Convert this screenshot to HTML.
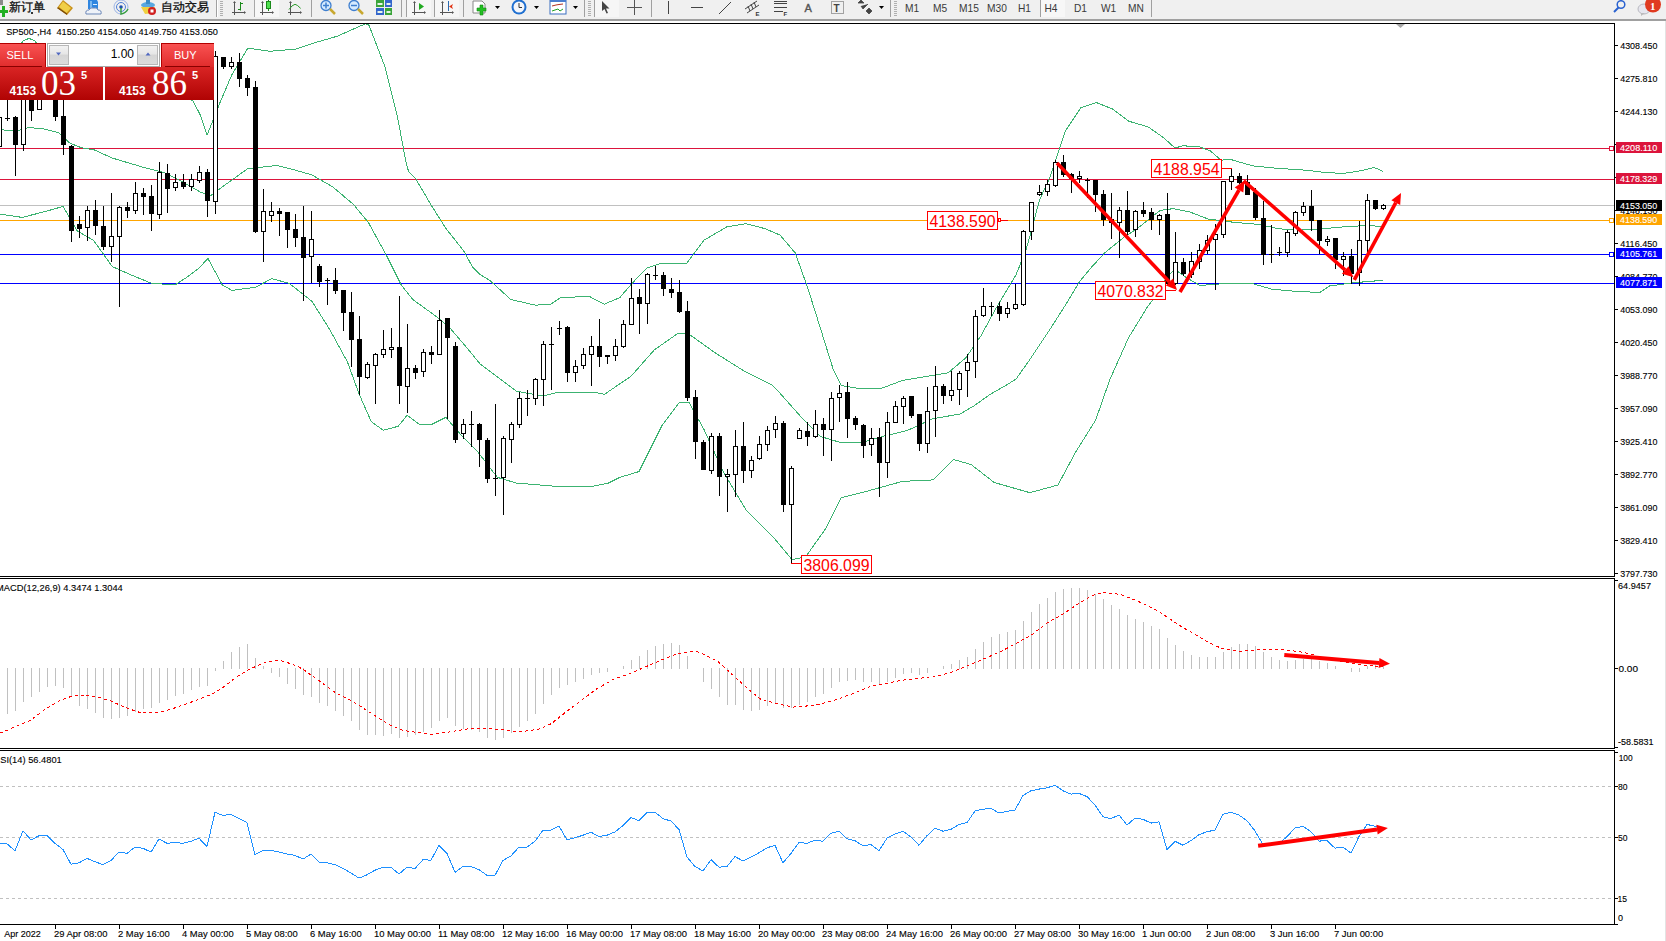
<!DOCTYPE html>
<html><head><meta charset="utf-8"><style>
html,body{margin:0;padding:0;width:1666px;height:941px;overflow:hidden;background:#fff}
#wrap{position:relative;width:1666px;height:941px;font-family:'Liberation Sans', sans-serif}
</style></head><body><div id="wrap">
<svg width="1666" height="941" viewBox="0 0 1666 941" style="display:block;font-family:'Liberation Sans', sans-serif">
<rect x="0" y="0" width="1666" height="941" fill="#ffffff"/>
<rect x="0" y="0" width="1666" height="19" fill="#f0f0f0"/>
<rect x="0" y="19" width="1666" height="2" fill="#a0a0a0"/>
<rect x="1665" y="21" width="1" height="920" fill="#e3e3e3"/>
<rect x="0" y="148" width="1614" height="1" fill="#dc143c"/>
<rect x="0" y="179" width="1614" height="1" fill="#dc143c"/>
<rect x="0" y="205" width="1614" height="1" fill="#c0c0c0"/>
<rect x="0" y="220" width="1614" height="1" fill="#ffa500"/>
<rect x="0" y="254" width="1614" height="1" fill="#0000ff"/>
<rect x="0" y="283" width="1614" height="1" fill="#0000ff"/>
<rect x="1609.5" y="146.5" width="4" height="4" fill="#fff" stroke="#dc143c" stroke-width="1"/>
<rect x="1609.5" y="218.5" width="4" height="4" fill="#fff" stroke="#ffa500" stroke-width="1"/>
<rect x="1609.5" y="252.5" width="4" height="4" fill="#fff" stroke="#0000ff" stroke-width="1"/>
<g clip-path="url(#cpMain)">
<polyline points="0.0,75.0 17.0,50.0 23.0,41.0 29.0,38.3 35.0,41.0 41.0,50.0 60.0,62.0 120.0,70.0 193.0,101.0 200.0,114.4 207.0,135.2 212.8,120.8 219.0,104.9 231.9,74.6 247.8,48.1 270.0,51.3 295.6,49.1 314.8,42.7 337.0,36.3 365.8,23.6 369.0,25.2 384.9,66.6 397.6,117.6 405.6,160.0 408.6,171.9 416.0,179.3 430.9,204.6 445.8,228.4 463.6,250.7 472.6,267.1 480.0,274.5 489.7,280.3 510.8,299.5 535.6,305.2 550.9,304.1 560.5,297.6 589.2,296.4 604.5,304.1 619.8,297.6 631.3,284.2 646.6,268.1 661.9,263.1 686.7,263.1 704.0,240.2 726.9,226.8 746.0,223.7 765.2,228.7 780.0,235.1 795.3,253.0 808.0,288.7 820.8,329.5 833.5,370.3 841.2,385.6 856.5,388.1 882.0,388.1 902.4,380.5 933.0,375.4 948.3,372.8 966.1,357.5 981.0,335.7 995.0,310.0 1016.0,274.9 1025.5,251.5 1030.2,235.0 1039.5,200.0 1050.3,176.5 1065.6,130.6 1080.9,107.6 1096.2,102.5 1112.8,109.1 1128.7,121.2 1147.8,126.7 1163.8,137.8 1174.9,148.0 1182.9,145.8 1198.8,146.7 1210.0,150.6 1221.1,160.1 1230.7,159.5 1253.0,165.9 1275.3,168.1 1307.2,170.3 1323.1,172.2 1342.3,173.5 1358.2,171.3 1374.1,167.5 1383.0,171.3" fill="none" stroke="#3cb371" stroke-width="1" shape-rendering="crispEdges"/>
<polyline points="0.0,129.9 18.7,130.4 28.0,127.6 42.1,128.5 58.5,132.7 70.1,143.3 81.8,147.9 93.5,149.6 112.2,158.0 130.9,163.6 145.0,167.8 163.7,172.5 182.4,181.8 201.0,192.4 210.4,195.9 225.5,184.6 247.8,168.6 276.5,165.5 292.4,169.3 311.9,174.9 332.7,186.8 353.6,204.6 368.4,222.5 386.3,255.2 401.2,285.0 413.1,299.8 433.9,314.7 448.8,326.6 466.6,347.4 480.0,363.8 493.6,374.1 516.5,391.3 543.3,395.9 558.6,392.0 593.0,392.0 604.5,394.3 631.3,376.0 654.2,350.0 677.2,333.9 688.7,333.9 715.4,353.0 746.0,372.2 772.8,385.5 780.0,393.2 800.4,416.2 820.8,436.6 841.2,442.7 861.6,442.7 882.0,436.6 907.5,430.4 933.0,418.7 960.0,414.0 974.0,405.9 990.4,394.2 1006.8,384.8 1016.1,379.0 1030.2,359.0 1048.9,331.0 1065.3,305.3 1079.3,281.9 1091.0,267.8 1105.0,252.6 1123.7,237.4 1137.8,228.1 1160.0,210.5 1173.3,208.6 1189.3,211.8 1208.4,219.1 1233.9,222.3 1259.4,224.5 1278.5,228.7 1297.6,230.3 1323.1,228.7 1348.6,226.4 1371.0,225.5 1383.0,227.1" fill="none" stroke="#3cb371" stroke-width="1" shape-rendering="crispEdges"/>
<polyline points="0.0,214.1 22.2,217.4 46.8,211.1 63.1,206.4 77.2,230.9 93.5,240.3 112.2,266.5 130.9,274.9 152.0,283.5 175.4,284.7 187.0,277.2 198.7,268.3 208.0,258.5 222.3,285.0 231.9,290.4 255.8,287.2 271.7,278.6 289.3,283.4 311.9,301.3 329.8,329.6 347.6,362.3 359.5,395.0 371.4,421.8 383.3,430.2 398.2,426.3 407.1,415.3 419.0,424.2 430.9,424.8 445.8,417.4 463.0,437.2 478.3,452.5 497.4,477.4 516.5,483.1 554.8,486.2 593.0,486.2 608.3,483.1 619.8,477.4 638.9,471.6 661.9,425.7 679.1,402.8 688.7,402.0 704.0,429.5 723.1,471.6 746.0,509.9 772.8,536.6 792.0,559.5 805.5,557.0 825.9,528.4 841.2,497.8 861.6,492.7 902.4,481.4 933.0,479.9 953.4,459.5 971.2,464.6 994.2,482.5 1029.9,492.7 1057.9,485.0 1075.8,451.9 1095.7,420.0 1109.7,380.0 1128.4,338.0 1147.0,307.6 1153.0,299.4 1160.0,286.0 1168.0,276.0 1175.0,269.5 1187.0,278.0 1200.0,285.5 1221.1,283.8 1253.0,283.8 1272.1,289.2 1297.6,291.5 1320.0,292.4 1329.5,286.0 1351.8,282.9 1383.0,280.3" fill="none" stroke="#3cb371" stroke-width="1" shape-rendering="crispEdges"/>
</g>
<g shape-rendering="crispEdges">
<rect x="-1" y="115" width="1" height="35" fill="#000"/>
<rect x="-3" y="117" width="5" height="30" fill="#000"/>
<rect x="-2" y="118" width="3" height="28" fill="#fff"/>
<rect x="7" y="95" width="1" height="26" fill="#000"/>
<rect x="5" y="118" width="5" height="1" fill="#000"/>
<rect x="15" y="116" width="1" height="60" fill="#000"/>
<rect x="13" y="117" width="5" height="28" fill="#000"/>
<rect x="23" y="95" width="1" height="56" fill="#000"/>
<rect x="21" y="95" width="5" height="50" fill="#000"/>
<rect x="22" y="96" width="3" height="48" fill="#fff"/>
<rect x="31" y="95" width="1" height="26" fill="#000"/>
<rect x="29" y="95" width="5" height="16" fill="#000"/>
<rect x="39" y="95" width="1" height="15" fill="#000"/>
<rect x="37" y="95" width="5" height="15" fill="#000"/>
<rect x="38" y="96" width="3" height="13" fill="#fff"/>
<rect x="47" y="95" width="1" height="3" fill="#000"/>
<rect x="45" y="95" width="5" height="3" fill="#000"/>
<rect x="55" y="95" width="1" height="26" fill="#000"/>
<rect x="53" y="95" width="5" height="22" fill="#000"/>
<rect x="63" y="95" width="1" height="60" fill="#000"/>
<rect x="61" y="116" width="5" height="29" fill="#000"/>
<rect x="71" y="145" width="1" height="97" fill="#000"/>
<rect x="69" y="146" width="5" height="85" fill="#000"/>
<rect x="79" y="216" width="1" height="22" fill="#000"/>
<rect x="77" y="224" width="5" height="5" fill="#000"/>
<rect x="87" y="206" width="1" height="35" fill="#000"/>
<rect x="85" y="210" width="5" height="18" fill="#000"/>
<rect x="86" y="211" width="3" height="16" fill="#fff"/>
<rect x="95" y="200" width="1" height="35" fill="#000"/>
<rect x="93" y="210" width="5" height="16" fill="#000"/>
<rect x="103" y="206" width="1" height="44" fill="#000"/>
<rect x="101" y="226" width="5" height="21" fill="#000"/>
<rect x="111" y="193" width="1" height="69" fill="#000"/>
<rect x="109" y="236" width="5" height="11" fill="#000"/>
<rect x="110" y="237" width="3" height="9" fill="#fff"/>
<rect x="119" y="206" width="1" height="101" fill="#000"/>
<rect x="117" y="207" width="5" height="30" fill="#000"/>
<rect x="118" y="208" width="3" height="28" fill="#fff"/>
<rect x="127" y="202" width="1" height="16" fill="#000"/>
<rect x="125" y="207" width="5" height="4" fill="#000"/>
<rect x="135" y="182" width="1" height="32" fill="#000"/>
<rect x="133" y="193" width="5" height="18" fill="#000"/>
<rect x="134" y="194" width="3" height="16" fill="#fff"/>
<rect x="143" y="188" width="1" height="27" fill="#000"/>
<rect x="141" y="193" width="5" height="4" fill="#000"/>
<rect x="151" y="185" width="1" height="46" fill="#000"/>
<rect x="149" y="196" width="5" height="18" fill="#000"/>
<rect x="159" y="162" width="1" height="57" fill="#000"/>
<rect x="157" y="172" width="5" height="43" fill="#000"/>
<rect x="158" y="173" width="3" height="41" fill="#fff"/>
<rect x="167" y="164" width="1" height="49" fill="#000"/>
<rect x="165" y="173" width="5" height="16" fill="#000"/>
<rect x="175" y="174" width="1" height="17" fill="#000"/>
<rect x="173" y="182" width="5" height="6" fill="#000"/>
<rect x="174" y="183" width="3" height="4" fill="#fff"/>
<rect x="183" y="174" width="1" height="15" fill="#000"/>
<rect x="181" y="182" width="5" height="5" fill="#000"/>
<rect x="191" y="174" width="1" height="17" fill="#000"/>
<rect x="189" y="179" width="5" height="8" fill="#000"/>
<rect x="190" y="180" width="3" height="6" fill="#fff"/>
<rect x="199" y="166" width="1" height="17" fill="#000"/>
<rect x="197" y="172" width="5" height="9" fill="#000"/>
<rect x="198" y="173" width="3" height="7" fill="#fff"/>
<rect x="207" y="169" width="1" height="48" fill="#000"/>
<rect x="205" y="172" width="5" height="29" fill="#000"/>
<rect x="215" y="51" width="1" height="163" fill="#000"/>
<rect x="213" y="56" width="5" height="146" fill="#000"/>
<rect x="214" y="57" width="3" height="144" fill="#fff"/>
<rect x="223" y="57" width="1" height="12" fill="#000"/>
<rect x="221" y="57" width="5" height="10" fill="#000"/>
<rect x="231" y="57" width="1" height="12" fill="#000"/>
<rect x="229" y="62" width="5" height="5" fill="#000"/>
<rect x="230" y="63" width="3" height="3" fill="#fff"/>
<rect x="239" y="53" width="1" height="34" fill="#000"/>
<rect x="237" y="62" width="5" height="17" fill="#000"/>
<rect x="247" y="75" width="1" height="21" fill="#000"/>
<rect x="245" y="78" width="5" height="10" fill="#000"/>
<rect x="255" y="81" width="1" height="152" fill="#000"/>
<rect x="253" y="87" width="5" height="145" fill="#000"/>
<rect x="263" y="189" width="1" height="73" fill="#000"/>
<rect x="261" y="211" width="5" height="21" fill="#000"/>
<rect x="262" y="212" width="3" height="19" fill="#fff"/>
<rect x="271" y="202" width="1" height="20" fill="#000"/>
<rect x="269" y="211" width="5" height="5" fill="#000"/>
<rect x="270" y="212" width="3" height="3" fill="#fff"/>
<rect x="279" y="208" width="1" height="28" fill="#000"/>
<rect x="277" y="211" width="5" height="3" fill="#000"/>
<rect x="287" y="212" width="1" height="36" fill="#000"/>
<rect x="285" y="212" width="5" height="18" fill="#000"/>
<rect x="295" y="214" width="1" height="33" fill="#000"/>
<rect x="293" y="229" width="5" height="9" fill="#000"/>
<rect x="303" y="206" width="1" height="95" fill="#000"/>
<rect x="301" y="237" width="5" height="21" fill="#000"/>
<rect x="311" y="211" width="1" height="72" fill="#000"/>
<rect x="309" y="239" width="5" height="18" fill="#000"/>
<rect x="310" y="240" width="3" height="16" fill="#fff"/>
<rect x="319" y="264" width="1" height="23" fill="#000"/>
<rect x="317" y="266" width="5" height="16" fill="#000"/>
<rect x="327" y="278" width="1" height="27" fill="#000"/>
<rect x="325" y="280" width="5" height="1" fill="#000"/>
<rect x="335" y="268" width="1" height="26" fill="#000"/>
<rect x="333" y="280" width="5" height="11" fill="#000"/>
<rect x="343" y="290" width="1" height="41" fill="#000"/>
<rect x="341" y="290" width="5" height="23" fill="#000"/>
<rect x="351" y="292" width="1" height="75" fill="#000"/>
<rect x="349" y="312" width="5" height="28" fill="#000"/>
<rect x="359" y="316" width="1" height="79" fill="#000"/>
<rect x="357" y="339" width="5" height="38" fill="#000"/>
<rect x="367" y="362" width="1" height="17" fill="#000"/>
<rect x="365" y="364" width="5" height="14" fill="#000"/>
<rect x="366" y="365" width="3" height="12" fill="#fff"/>
<rect x="375" y="353" width="1" height="51" fill="#000"/>
<rect x="373" y="354" width="5" height="12" fill="#000"/>
<rect x="374" y="355" width="3" height="10" fill="#fff"/>
<rect x="383" y="330" width="1" height="28" fill="#000"/>
<rect x="381" y="349" width="5" height="6" fill="#000"/>
<rect x="382" y="350" width="3" height="4" fill="#fff"/>
<rect x="391" y="328" width="1" height="30" fill="#000"/>
<rect x="389" y="347" width="5" height="3" fill="#000"/>
<rect x="390" y="348" width="3" height="1" fill="#fff"/>
<rect x="399" y="296" width="1" height="108" fill="#000"/>
<rect x="397" y="347" width="5" height="39" fill="#000"/>
<rect x="407" y="324" width="1" height="89" fill="#000"/>
<rect x="405" y="368" width="5" height="19" fill="#000"/>
<rect x="406" y="369" width="3" height="17" fill="#fff"/>
<rect x="415" y="365" width="1" height="14" fill="#000"/>
<rect x="413" y="368" width="5" height="5" fill="#000"/>
<rect x="423" y="349" width="1" height="28" fill="#000"/>
<rect x="421" y="352" width="5" height="20" fill="#000"/>
<rect x="422" y="353" width="3" height="18" fill="#fff"/>
<rect x="431" y="346" width="1" height="18" fill="#000"/>
<rect x="429" y="352" width="5" height="3" fill="#000"/>
<rect x="439" y="310" width="1" height="45" fill="#000"/>
<rect x="437" y="320" width="5" height="35" fill="#000"/>
<rect x="438" y="321" width="3" height="33" fill="#fff"/>
<rect x="447" y="318" width="1" height="101" fill="#000"/>
<rect x="445" y="318" width="5" height="20" fill="#000"/>
<rect x="455" y="342" width="1" height="101" fill="#000"/>
<rect x="453" y="346" width="5" height="94" fill="#000"/>
<rect x="463" y="419" width="1" height="20" fill="#000"/>
<rect x="461" y="424" width="5" height="10" fill="#000"/>
<rect x="462" y="425" width="3" height="8" fill="#fff"/>
<rect x="471" y="411" width="1" height="36" fill="#000"/>
<rect x="469" y="424" width="5" height="1" fill="#000"/>
<rect x="479" y="423" width="1" height="44" fill="#000"/>
<rect x="477" y="424" width="5" height="16" fill="#000"/>
<rect x="487" y="438" width="1" height="45" fill="#000"/>
<rect x="485" y="440" width="5" height="39" fill="#000"/>
<rect x="495" y="404" width="1" height="92" fill="#000"/>
<rect x="493" y="478" width="5" height="1" fill="#000"/>
<rect x="503" y="436" width="1" height="79" fill="#000"/>
<rect x="501" y="438" width="5" height="40" fill="#000"/>
<rect x="502" y="439" width="3" height="38" fill="#fff"/>
<rect x="511" y="422" width="1" height="41" fill="#000"/>
<rect x="509" y="424" width="5" height="16" fill="#000"/>
<rect x="510" y="425" width="3" height="14" fill="#fff"/>
<rect x="519" y="392" width="1" height="36" fill="#000"/>
<rect x="517" y="398" width="5" height="27" fill="#000"/>
<rect x="518" y="399" width="3" height="25" fill="#fff"/>
<rect x="527" y="390" width="1" height="26" fill="#000"/>
<rect x="525" y="398" width="5" height="1" fill="#000"/>
<rect x="535" y="378" width="1" height="27" fill="#000"/>
<rect x="533" y="379" width="5" height="20" fill="#000"/>
<rect x="534" y="380" width="3" height="18" fill="#fff"/>
<rect x="543" y="341" width="1" height="65" fill="#000"/>
<rect x="541" y="344" width="5" height="36" fill="#000"/>
<rect x="542" y="345" width="3" height="34" fill="#fff"/>
<rect x="551" y="327" width="1" height="63" fill="#000"/>
<rect x="549" y="344" width="5" height="1" fill="#000"/>
<rect x="559" y="321" width="1" height="14" fill="#000"/>
<rect x="557" y="328" width="5" height="1" fill="#000"/>
<rect x="567" y="326" width="1" height="56" fill="#000"/>
<rect x="565" y="327" width="5" height="46" fill="#000"/>
<rect x="575" y="360" width="1" height="22" fill="#000"/>
<rect x="573" y="366" width="5" height="7" fill="#000"/>
<rect x="574" y="367" width="3" height="5" fill="#fff"/>
<rect x="583" y="348" width="1" height="21" fill="#000"/>
<rect x="581" y="354" width="5" height="12" fill="#000"/>
<rect x="582" y="355" width="3" height="10" fill="#fff"/>
<rect x="591" y="336" width="1" height="50" fill="#000"/>
<rect x="589" y="346" width="5" height="9" fill="#000"/>
<rect x="590" y="347" width="3" height="7" fill="#fff"/>
<rect x="599" y="319" width="1" height="48" fill="#000"/>
<rect x="597" y="346" width="5" height="11" fill="#000"/>
<rect x="607" y="355" width="1" height="9" fill="#000"/>
<rect x="605" y="355" width="5" height="2" fill="#000"/>
<rect x="615" y="339" width="1" height="22" fill="#000"/>
<rect x="613" y="346" width="5" height="10" fill="#000"/>
<rect x="614" y="347" width="3" height="8" fill="#fff"/>
<rect x="623" y="320" width="1" height="28" fill="#000"/>
<rect x="621" y="324" width="5" height="23" fill="#000"/>
<rect x="622" y="325" width="3" height="21" fill="#fff"/>
<rect x="631" y="278" width="1" height="47" fill="#000"/>
<rect x="629" y="298" width="5" height="27" fill="#000"/>
<rect x="630" y="299" width="3" height="25" fill="#fff"/>
<rect x="639" y="289" width="1" height="45" fill="#000"/>
<rect x="637" y="297" width="5" height="7" fill="#000"/>
<rect x="647" y="273" width="1" height="51" fill="#000"/>
<rect x="645" y="274" width="5" height="30" fill="#000"/>
<rect x="646" y="275" width="3" height="28" fill="#fff"/>
<rect x="655" y="266" width="1" height="14" fill="#000"/>
<rect x="653" y="275" width="5" height="1" fill="#000"/>
<rect x="663" y="272" width="1" height="24" fill="#000"/>
<rect x="661" y="275" width="5" height="14" fill="#000"/>
<rect x="671" y="278" width="1" height="20" fill="#000"/>
<rect x="669" y="289" width="5" height="4" fill="#000"/>
<rect x="679" y="280" width="1" height="33" fill="#000"/>
<rect x="677" y="292" width="5" height="20" fill="#000"/>
<rect x="687" y="301" width="1" height="100" fill="#000"/>
<rect x="685" y="311" width="5" height="87" fill="#000"/>
<rect x="695" y="390" width="1" height="69" fill="#000"/>
<rect x="693" y="397" width="5" height="45" fill="#000"/>
<rect x="703" y="440" width="1" height="30" fill="#000"/>
<rect x="701" y="442" width="5" height="28" fill="#000"/>
<rect x="711" y="433" width="1" height="41" fill="#000"/>
<rect x="709" y="436" width="5" height="35" fill="#000"/>
<rect x="710" y="437" width="3" height="33" fill="#fff"/>
<rect x="719" y="433" width="1" height="63" fill="#000"/>
<rect x="717" y="436" width="5" height="41" fill="#000"/>
<rect x="727" y="469" width="1" height="43" fill="#000"/>
<rect x="725" y="474" width="5" height="3" fill="#000"/>
<rect x="726" y="475" width="3" height="1" fill="#fff"/>
<rect x="735" y="430" width="1" height="67" fill="#000"/>
<rect x="733" y="446" width="5" height="29" fill="#000"/>
<rect x="734" y="447" width="3" height="27" fill="#fff"/>
<rect x="743" y="422" width="1" height="61" fill="#000"/>
<rect x="741" y="446" width="5" height="25" fill="#000"/>
<rect x="751" y="456" width="1" height="22" fill="#000"/>
<rect x="749" y="460" width="5" height="11" fill="#000"/>
<rect x="750" y="461" width="3" height="9" fill="#fff"/>
<rect x="759" y="436" width="1" height="24" fill="#000"/>
<rect x="757" y="444" width="5" height="15" fill="#000"/>
<rect x="758" y="445" width="3" height="13" fill="#fff"/>
<rect x="767" y="426" width="1" height="25" fill="#000"/>
<rect x="765" y="430" width="5" height="15" fill="#000"/>
<rect x="766" y="431" width="3" height="13" fill="#fff"/>
<rect x="775" y="416" width="1" height="22" fill="#000"/>
<rect x="773" y="423" width="5" height="7" fill="#000"/>
<rect x="774" y="424" width="3" height="5" fill="#fff"/>
<rect x="783" y="421" width="1" height="91" fill="#000"/>
<rect x="781" y="423" width="5" height="82" fill="#000"/>
<rect x="791" y="466" width="1" height="98" fill="#000"/>
<rect x="789" y="468" width="5" height="37" fill="#000"/>
<rect x="790" y="469" width="3" height="35" fill="#fff"/>
<rect x="799" y="428" width="1" height="11" fill="#000"/>
<rect x="797" y="430" width="5" height="9" fill="#000"/>
<rect x="798" y="431" width="3" height="7" fill="#fff"/>
<rect x="807" y="422" width="1" height="24" fill="#000"/>
<rect x="805" y="431" width="5" height="6" fill="#000"/>
<rect x="815" y="410" width="1" height="28" fill="#000"/>
<rect x="813" y="424" width="5" height="13" fill="#000"/>
<rect x="814" y="425" width="3" height="11" fill="#fff"/>
<rect x="823" y="418" width="1" height="38" fill="#000"/>
<rect x="821" y="424" width="5" height="6" fill="#000"/>
<rect x="831" y="392" width="1" height="69" fill="#000"/>
<rect x="829" y="398" width="5" height="32" fill="#000"/>
<rect x="830" y="399" width="3" height="30" fill="#fff"/>
<rect x="839" y="385" width="1" height="37" fill="#000"/>
<rect x="837" y="393" width="5" height="5" fill="#000"/>
<rect x="838" y="394" width="3" height="3" fill="#fff"/>
<rect x="847" y="382" width="1" height="56" fill="#000"/>
<rect x="845" y="392" width="5" height="27" fill="#000"/>
<rect x="855" y="416" width="1" height="14" fill="#000"/>
<rect x="853" y="418" width="5" height="7" fill="#000"/>
<rect x="863" y="424" width="1" height="34" fill="#000"/>
<rect x="861" y="425" width="5" height="21" fill="#000"/>
<rect x="871" y="428" width="1" height="28" fill="#000"/>
<rect x="869" y="438" width="5" height="7" fill="#000"/>
<rect x="870" y="439" width="3" height="5" fill="#fff"/>
<rect x="879" y="428" width="1" height="69" fill="#000"/>
<rect x="877" y="437" width="5" height="26" fill="#000"/>
<rect x="887" y="412" width="1" height="66" fill="#000"/>
<rect x="885" y="422" width="5" height="41" fill="#000"/>
<rect x="886" y="423" width="3" height="39" fill="#fff"/>
<rect x="895" y="401" width="1" height="22" fill="#000"/>
<rect x="893" y="406" width="5" height="17" fill="#000"/>
<rect x="894" y="407" width="3" height="15" fill="#fff"/>
<rect x="903" y="396" width="1" height="28" fill="#000"/>
<rect x="901" y="398" width="5" height="9" fill="#000"/>
<rect x="902" y="399" width="3" height="7" fill="#fff"/>
<rect x="911" y="396" width="1" height="22" fill="#000"/>
<rect x="909" y="396" width="5" height="20" fill="#000"/>
<rect x="919" y="414" width="1" height="37" fill="#000"/>
<rect x="917" y="414" width="5" height="30" fill="#000"/>
<rect x="927" y="387" width="1" height="66" fill="#000"/>
<rect x="925" y="411" width="5" height="33" fill="#000"/>
<rect x="926" y="412" width="3" height="31" fill="#fff"/>
<rect x="935" y="366" width="1" height="71" fill="#000"/>
<rect x="933" y="386" width="5" height="25" fill="#000"/>
<rect x="934" y="387" width="3" height="23" fill="#fff"/>
<rect x="943" y="384" width="1" height="20" fill="#000"/>
<rect x="941" y="386" width="5" height="10" fill="#000"/>
<rect x="951" y="371" width="1" height="30" fill="#000"/>
<rect x="949" y="390" width="5" height="6" fill="#000"/>
<rect x="950" y="391" width="3" height="4" fill="#fff"/>
<rect x="959" y="371" width="1" height="34" fill="#000"/>
<rect x="957" y="373" width="5" height="17" fill="#000"/>
<rect x="958" y="374" width="3" height="15" fill="#fff"/>
<rect x="967" y="354" width="1" height="43" fill="#000"/>
<rect x="965" y="362" width="5" height="9" fill="#000"/>
<rect x="966" y="363" width="3" height="7" fill="#fff"/>
<rect x="975" y="310" width="1" height="68" fill="#000"/>
<rect x="973" y="316" width="5" height="46" fill="#000"/>
<rect x="974" y="317" width="3" height="44" fill="#fff"/>
<rect x="983" y="288" width="1" height="29" fill="#000"/>
<rect x="981" y="306" width="5" height="10" fill="#000"/>
<rect x="982" y="307" width="3" height="8" fill="#fff"/>
<rect x="991" y="302" width="1" height="14" fill="#000"/>
<rect x="989" y="306" width="5" height="1" fill="#000"/>
<rect x="999" y="302" width="1" height="19" fill="#000"/>
<rect x="997" y="306" width="5" height="8" fill="#000"/>
<rect x="1007" y="302" width="1" height="16" fill="#000"/>
<rect x="1005" y="308" width="5" height="6" fill="#000"/>
<rect x="1006" y="309" width="3" height="4" fill="#fff"/>
<rect x="1015" y="284" width="1" height="26" fill="#000"/>
<rect x="1013" y="304" width="5" height="5" fill="#000"/>
<rect x="1014" y="305" width="3" height="3" fill="#fff"/>
<rect x="1023" y="230" width="1" height="76" fill="#000"/>
<rect x="1021" y="231" width="5" height="74" fill="#000"/>
<rect x="1022" y="232" width="3" height="72" fill="#fff"/>
<rect x="1031" y="202" width="1" height="38" fill="#000"/>
<rect x="1029" y="202" width="5" height="30" fill="#000"/>
<rect x="1030" y="203" width="3" height="28" fill="#fff"/>
<rect x="1039" y="185" width="1" height="11" fill="#000"/>
<rect x="1037" y="192" width="5" height="3" fill="#000"/>
<rect x="1038" y="193" width="3" height="1" fill="#fff"/>
<rect x="1047" y="180" width="1" height="16" fill="#000"/>
<rect x="1045" y="184" width="5" height="8" fill="#000"/>
<rect x="1046" y="185" width="3" height="6" fill="#fff"/>
<rect x="1055" y="160" width="1" height="27" fill="#000"/>
<rect x="1053" y="162" width="5" height="24" fill="#000"/>
<rect x="1054" y="163" width="3" height="22" fill="#fff"/>
<rect x="1063" y="155" width="1" height="22" fill="#000"/>
<rect x="1061" y="162" width="5" height="13" fill="#000"/>
<rect x="1071" y="173" width="1" height="20" fill="#000"/>
<rect x="1069" y="174" width="5" height="5" fill="#000"/>
<rect x="1079" y="171" width="1" height="12" fill="#000"/>
<rect x="1077" y="176" width="5" height="3" fill="#000"/>
<rect x="1078" y="177" width="3" height="1" fill="#fff"/>
<rect x="1087" y="178" width="1" height="20" fill="#000"/>
<rect x="1085" y="180" width="5" height="1" fill="#000"/>
<rect x="1095" y="180" width="1" height="32" fill="#000"/>
<rect x="1093" y="180" width="5" height="15" fill="#000"/>
<rect x="1103" y="190" width="1" height="36" fill="#000"/>
<rect x="1101" y="194" width="5" height="26" fill="#000"/>
<rect x="1111" y="193" width="1" height="46" fill="#000"/>
<rect x="1109" y="219" width="5" height="4" fill="#000"/>
<rect x="1119" y="207" width="1" height="51" fill="#000"/>
<rect x="1117" y="210" width="5" height="13" fill="#000"/>
<rect x="1118" y="211" width="3" height="11" fill="#fff"/>
<rect x="1127" y="191" width="1" height="44" fill="#000"/>
<rect x="1125" y="210" width="5" height="22" fill="#000"/>
<rect x="1135" y="210" width="1" height="27" fill="#000"/>
<rect x="1133" y="211" width="5" height="19" fill="#000"/>
<rect x="1134" y="212" width="3" height="17" fill="#fff"/>
<rect x="1143" y="202" width="1" height="15" fill="#000"/>
<rect x="1141" y="210" width="5" height="4" fill="#000"/>
<rect x="1151" y="208" width="1" height="22" fill="#000"/>
<rect x="1149" y="212" width="5" height="8" fill="#000"/>
<rect x="1159" y="214" width="1" height="21" fill="#000"/>
<rect x="1157" y="215" width="5" height="5" fill="#000"/>
<rect x="1158" y="216" width="3" height="3" fill="#fff"/>
<rect x="1167" y="193" width="1" height="92" fill="#000"/>
<rect x="1165" y="214" width="5" height="70" fill="#000"/>
<rect x="1175" y="232" width="1" height="53" fill="#000"/>
<rect x="1173" y="262" width="5" height="22" fill="#000"/>
<rect x="1174" y="263" width="3" height="20" fill="#fff"/>
<rect x="1183" y="258" width="1" height="18" fill="#000"/>
<rect x="1181" y="262" width="5" height="12" fill="#000"/>
<rect x="1191" y="252" width="1" height="26" fill="#000"/>
<rect x="1189" y="261" width="5" height="14" fill="#000"/>
<rect x="1190" y="262" width="3" height="12" fill="#fff"/>
<rect x="1199" y="244" width="1" height="25" fill="#000"/>
<rect x="1197" y="250" width="5" height="12" fill="#000"/>
<rect x="1198" y="251" width="3" height="10" fill="#fff"/>
<rect x="1207" y="235" width="1" height="19" fill="#000"/>
<rect x="1205" y="240" width="5" height="11" fill="#000"/>
<rect x="1206" y="241" width="3" height="9" fill="#fff"/>
<rect x="1215" y="224" width="1" height="66" fill="#000"/>
<rect x="1213" y="234" width="5" height="6" fill="#000"/>
<rect x="1214" y="235" width="3" height="4" fill="#fff"/>
<rect x="1223" y="181" width="1" height="57" fill="#000"/>
<rect x="1221" y="181" width="5" height="54" fill="#000"/>
<rect x="1222" y="182" width="3" height="52" fill="#fff"/>
<rect x="1231" y="168" width="1" height="22" fill="#000"/>
<rect x="1229" y="176" width="5" height="6" fill="#000"/>
<rect x="1230" y="177" width="3" height="4" fill="#fff"/>
<rect x="1239" y="173" width="1" height="11" fill="#000"/>
<rect x="1237" y="176" width="5" height="7" fill="#000"/>
<rect x="1247" y="175" width="1" height="20" fill="#000"/>
<rect x="1245" y="182" width="5" height="13" fill="#000"/>
<rect x="1255" y="188" width="1" height="32" fill="#000"/>
<rect x="1253" y="192" width="5" height="26" fill="#000"/>
<rect x="1263" y="201" width="1" height="64" fill="#000"/>
<rect x="1261" y="218" width="5" height="37" fill="#000"/>
<rect x="1271" y="225" width="1" height="38" fill="#000"/>
<rect x="1269" y="254" width="5" height="1" fill="#000"/>
<rect x="1279" y="247" width="1" height="9" fill="#000"/>
<rect x="1277" y="252" width="5" height="1" fill="#000"/>
<rect x="1287" y="230" width="1" height="27" fill="#000"/>
<rect x="1285" y="232" width="5" height="21" fill="#000"/>
<rect x="1286" y="233" width="3" height="19" fill="#fff"/>
<rect x="1295" y="211" width="1" height="25" fill="#000"/>
<rect x="1293" y="212" width="5" height="22" fill="#000"/>
<rect x="1294" y="213" width="3" height="20" fill="#fff"/>
<rect x="1303" y="202" width="1" height="14" fill="#000"/>
<rect x="1301" y="206" width="5" height="7" fill="#000"/>
<rect x="1302" y="207" width="3" height="5" fill="#fff"/>
<rect x="1311" y="190" width="1" height="41" fill="#000"/>
<rect x="1309" y="206" width="5" height="15" fill="#000"/>
<rect x="1319" y="220" width="1" height="34" fill="#000"/>
<rect x="1317" y="220" width="5" height="21" fill="#000"/>
<rect x="1327" y="236" width="1" height="10" fill="#000"/>
<rect x="1325" y="239" width="5" height="3" fill="#000"/>
<rect x="1326" y="240" width="3" height="1" fill="#fff"/>
<rect x="1335" y="238" width="1" height="31" fill="#000"/>
<rect x="1333" y="238" width="5" height="22" fill="#000"/>
<rect x="1343" y="252" width="1" height="24" fill="#000"/>
<rect x="1341" y="256" width="5" height="4" fill="#000"/>
<rect x="1342" y="257" width="3" height="2" fill="#fff"/>
<rect x="1351" y="249" width="1" height="35" fill="#000"/>
<rect x="1349" y="256" width="5" height="18" fill="#000"/>
<rect x="1359" y="221" width="1" height="65" fill="#000"/>
<rect x="1357" y="240" width="5" height="33" fill="#000"/>
<rect x="1358" y="241" width="3" height="31" fill="#fff"/>
<rect x="1367" y="194" width="1" height="59" fill="#000"/>
<rect x="1365" y="200" width="5" height="41" fill="#000"/>
<rect x="1366" y="201" width="3" height="39" fill="#fff"/>
<rect x="1375" y="200" width="1" height="10" fill="#000"/>
<rect x="1373" y="200" width="5" height="9" fill="#000"/>
<rect x="1383" y="204" width="1" height="6" fill="#000"/>
<rect x="1381" y="205" width="5" height="4" fill="#000"/>
<rect x="1382" y="206" width="3" height="2" fill="#fff"/>
</g>
<line x1="1057" y1="163" x2="1169.4452927158773" y2="282.0046014576368" stroke="#ff0000" stroke-width="3.6"/>
<polygon points="1177,290 1165.8110206511667,285.4385593140562 1173.0795647805878,278.5706436012174" fill="#ff0000"/>
<line x1="1180" y1="292" x2="1238.991967595109" y2="190.02163741310645" stroke="#ff0000" stroke-width="3.6"/>
<polygon points="1244.5,180.5 1243.3199846010664,192.5252885062388 1234.6639505891515,187.51798631997409" fill="#ff0000"/>
<line x1="1243.7" y1="180.8" x2="1345.2375253369244" y2="270.0383533243462" stroke="#ff0000" stroke-width="3.6"/>
<polygon points="1353.5,277.3 1341.9367768479908,273.79402362574416 1348.538273825858,266.2826830229482" fill="#ff0000"/>
<line x1="1354.3" y1="279.8" x2="1395.7882298093948" y2="202.6869732878913" stroke="#ff0000" stroke-width="3.6"/>
<polygon points="1401,193 1400.191399485709,205.05595973816637 1391.3850601330805,200.31798683761625" fill="#ff0000"/>
<rect x="801.5" y="555.5" width="70" height="18" fill="#fff" stroke="#ff0000" stroke-width="1"/>
<text x="803.5" y="571" font-size="17" fill="#ff0000" textLength="66" lengthAdjust="spacingAndGlyphs">3806.099</text>
<rect x="791" y="563" width="10" height="1" fill="#ff0000"/>
<rect x="927.5" y="211.5" width="70" height="18" fill="#fff" stroke="#ff0000" stroke-width="1"/>
<text x="929.5" y="227" font-size="17" fill="#ff0000" textLength="66" lengthAdjust="spacingAndGlyphs">4138.590</text>
<rect x="998.5" y="218.5" width="2" height="3" fill="#fff" stroke="#ff0000"/>
<rect x="1001" y="220" width="7" height="1" fill="#ff0000"/>
<rect x="1095.5" y="281.5" width="70" height="18" fill="#fff" stroke="#ff0000" stroke-width="1"/>
<text x="1097.5" y="297" font-size="17" fill="#ff0000" textLength="66" lengthAdjust="spacingAndGlyphs">4070.832</text>
<rect x="1166" y="290" width="10" height="1" fill="#ff0000"/>
<rect x="1151.5" y="159.5" width="70" height="18" fill="#fff" stroke="#ff0000" stroke-width="1"/>
<text x="1153.5" y="175" font-size="17" fill="#ff0000" textLength="66" lengthAdjust="spacingAndGlyphs">4188.954</text>
<rect x="1222" y="168" width="10" height="1" fill="#ff0000"/>
<defs><clipPath id="cpMain"><rect x="0" y="24" width="1614" height="552"/></clipPath></defs>
<polygon points="1396,24 1405,24 1400.5,28" fill="#a8a8a8"/>
<rect x="0" y="23" width="1615" height="1" fill="#000"/>
<rect x="1614" y="23" width="1" height="554" fill="#000"/>
<rect x="1614" y="578" width="1" height="171" fill="#000"/>
<rect x="1614" y="750" width="1" height="175" fill="#000"/>
<rect x="0" y="576" width="1614" height="1" fill="#000"/>
<rect x="0" y="578" width="1615" height="1" fill="#000"/>
<rect x="0" y="748" width="1614" height="1" fill="#000"/>
<rect x="0" y="750" width="1615" height="1" fill="#000"/>
<rect x="0" y="924" width="1615" height="1" fill="#000"/>
<rect x="1615" y="45" width="3" height="1" fill="#000"/>
<text x="1620.2" y="49" font-size="9.5" fill="#000" stroke="#000" stroke-width="0.12" textLength="37.2" lengthAdjust="spacingAndGlyphs" >4308.450</text>
<rect x="1615" y="78" width="3" height="1" fill="#000"/>
<text x="1620.2" y="82" font-size="9.5" fill="#000" stroke="#000" stroke-width="0.12" textLength="37.2" lengthAdjust="spacingAndGlyphs" >4275.810</text>
<rect x="1615" y="111" width="3" height="1" fill="#000"/>
<text x="1620.2" y="115" font-size="9.5" fill="#000" stroke="#000" stroke-width="0.12" textLength="37.2" lengthAdjust="spacingAndGlyphs" >4244.130</text>
<rect x="1615" y="144" width="3" height="1" fill="#000"/>
<text x="1620.2" y="148" font-size="9.5" fill="#000" stroke="#000" stroke-width="0.12" textLength="37.2" lengthAdjust="spacingAndGlyphs" >4212.450</text>
<rect x="1615" y="177" width="3" height="1" fill="#000"/>
<text x="1620.2" y="181" font-size="9.5" fill="#000" stroke="#000" stroke-width="0.12" textLength="37.2" lengthAdjust="spacingAndGlyphs" >4180.780</text>
<rect x="1615" y="210" width="3" height="1" fill="#000"/>
<text x="1620.2" y="214" font-size="9.5" fill="#000" stroke="#000" stroke-width="0.12" textLength="37.2" lengthAdjust="spacingAndGlyphs" >4148.130</text>
<rect x="1615" y="243" width="3" height="1" fill="#000"/>
<text x="1620.2" y="247" font-size="9.5" fill="#000" stroke="#000" stroke-width="0.12" textLength="37.2" lengthAdjust="spacingAndGlyphs" >4116.450</text>
<rect x="1615" y="276" width="3" height="1" fill="#000"/>
<text x="1620.2" y="280" font-size="9.5" fill="#000" stroke="#000" stroke-width="0.12" textLength="37.2" lengthAdjust="spacingAndGlyphs" >4084.770</text>
<rect x="1615" y="309" width="3" height="1" fill="#000"/>
<text x="1620.2" y="313" font-size="9.5" fill="#000" stroke="#000" stroke-width="0.12" textLength="37.2" lengthAdjust="spacingAndGlyphs" >4053.090</text>
<rect x="1615" y="342" width="3" height="1" fill="#000"/>
<text x="1620.2" y="346" font-size="9.5" fill="#000" stroke="#000" stroke-width="0.12" textLength="37.2" lengthAdjust="spacingAndGlyphs" >4020.450</text>
<rect x="1615" y="375" width="3" height="1" fill="#000"/>
<text x="1620.2" y="379" font-size="9.5" fill="#000" stroke="#000" stroke-width="0.12" textLength="37.2" lengthAdjust="spacingAndGlyphs" >3988.770</text>
<rect x="1615" y="408" width="3" height="1" fill="#000"/>
<text x="1620.2" y="412" font-size="9.5" fill="#000" stroke="#000" stroke-width="0.12" textLength="37.2" lengthAdjust="spacingAndGlyphs" >3957.090</text>
<rect x="1615" y="441" width="3" height="1" fill="#000"/>
<text x="1620.2" y="445" font-size="9.5" fill="#000" stroke="#000" stroke-width="0.12" textLength="37.2" lengthAdjust="spacingAndGlyphs" >3925.410</text>
<rect x="1615" y="474" width="3" height="1" fill="#000"/>
<text x="1620.2" y="478" font-size="9.5" fill="#000" stroke="#000" stroke-width="0.12" textLength="37.2" lengthAdjust="spacingAndGlyphs" >3892.770</text>
<rect x="1615" y="507" width="3" height="1" fill="#000"/>
<text x="1620.2" y="511" font-size="9.5" fill="#000" stroke="#000" stroke-width="0.12" textLength="37.2" lengthAdjust="spacingAndGlyphs" >3861.090</text>
<rect x="1615" y="540" width="3" height="1" fill="#000"/>
<text x="1620.2" y="544" font-size="9.5" fill="#000" stroke="#000" stroke-width="0.12" textLength="37.2" lengthAdjust="spacingAndGlyphs" >3829.410</text>
<rect x="1615" y="573" width="3" height="1" fill="#000"/>
<text x="1620.2" y="577" font-size="9.5" fill="#000" stroke="#000" stroke-width="0.12" textLength="37.2" lengthAdjust="spacingAndGlyphs" >3797.730</text>
<rect x="1616" y="142" width="46" height="11" fill="#dc143c"/>
<text x="1620" y="151" font-size="9.5" fill="#fff" stroke="#fff" stroke-width="0.12" textLength="37.2" lengthAdjust="spacingAndGlyphs" >4208.110</text>
<rect x="1616" y="173" width="46" height="11" fill="#dc143c"/>
<text x="1620" y="182" font-size="9.5" fill="#fff" stroke="#fff" stroke-width="0.12" textLength="37.2" lengthAdjust="spacingAndGlyphs" >4178.329</text>
<rect x="1616" y="200" width="46" height="11" fill="#000000"/>
<text x="1620" y="209" font-size="9.5" fill="#fff" stroke="#fff" stroke-width="0.12" textLength="37.2" lengthAdjust="spacingAndGlyphs" >4153.050</text>
<rect x="1616" y="214" width="46" height="11" fill="#ffa500"/>
<text x="1620" y="223" font-size="9.5" fill="#fff" stroke="#fff" stroke-width="0.12" textLength="37.2" lengthAdjust="spacingAndGlyphs" >4138.590</text>
<rect x="1616" y="248" width="46" height="11" fill="#0000ff"/>
<text x="1620" y="257" font-size="9.5" fill="#fff" stroke="#fff" stroke-width="0.12" textLength="37.2" lengthAdjust="spacingAndGlyphs" >4105.761</text>
<rect x="1616" y="277" width="46" height="11" fill="#0000ff"/>
<text x="1620" y="286" font-size="9.5" fill="#fff" stroke="#fff" stroke-width="0.12" textLength="37.2" lengthAdjust="spacingAndGlyphs" >4077.871</text>
<text x="6.2" y="35.3" font-size="9.8" fill="#000" stroke="#000" stroke-width="0.12" textLength="211.7" lengthAdjust="spacingAndGlyphs" xml:space="preserve">SP500-,H4  4150.250 4154.050 4149.750 4153.050</text>
<g shape-rendering="crispEdges">
<rect x="7" y="668" width="1" height="46" fill="#c0c0c0"/>
<rect x="15" y="668" width="1" height="43" fill="#c0c0c0"/>
<rect x="23" y="668" width="1" height="34" fill="#c0c0c0"/>
<rect x="31" y="668" width="1" height="29" fill="#c0c0c0"/>
<rect x="39" y="668" width="1" height="24" fill="#c0c0c0"/>
<rect x="47" y="668" width="1" height="19" fill="#c0c0c0"/>
<rect x="55" y="668" width="1" height="18" fill="#c0c0c0"/>
<rect x="63" y="668" width="1" height="20" fill="#c0c0c0"/>
<rect x="71" y="668" width="1" height="29" fill="#c0c0c0"/>
<rect x="79" y="668" width="1" height="38" fill="#c0c0c0"/>
<rect x="87" y="668" width="1" height="41" fill="#c0c0c0"/>
<rect x="95" y="668" width="1" height="45" fill="#c0c0c0"/>
<rect x="103" y="668" width="1" height="50" fill="#c0c0c0"/>
<rect x="111" y="668" width="1" height="51" fill="#c0c0c0"/>
<rect x="119" y="668" width="1" height="50" fill="#c0c0c0"/>
<rect x="127" y="668" width="1" height="48" fill="#c0c0c0"/>
<rect x="135" y="668" width="1" height="44" fill="#c0c0c0"/>
<rect x="143" y="668" width="1" height="41" fill="#c0c0c0"/>
<rect x="151" y="668" width="1" height="40" fill="#c0c0c0"/>
<rect x="159" y="668" width="1" height="35" fill="#c0c0c0"/>
<rect x="167" y="668" width="1" height="32" fill="#c0c0c0"/>
<rect x="175" y="668" width="1" height="28" fill="#c0c0c0"/>
<rect x="183" y="668" width="1" height="26" fill="#c0c0c0"/>
<rect x="191" y="668" width="1" height="22" fill="#c0c0c0"/>
<rect x="199" y="668" width="1" height="19" fill="#c0c0c0"/>
<rect x="207" y="668" width="1" height="18" fill="#c0c0c0"/>
<rect x="215" y="668" width="1" height="3" fill="#c0c0c0"/>
<rect x="223" y="661" width="1" height="8" fill="#c0c0c0"/>
<rect x="231" y="652" width="1" height="17" fill="#c0c0c0"/>
<rect x="239" y="647" width="1" height="22" fill="#c0c0c0"/>
<rect x="247" y="644" width="1" height="25" fill="#c0c0c0"/>
<rect x="255" y="658" width="1" height="11" fill="#c0c0c0"/>
<rect x="263" y="666" width="1" height="3" fill="#c0c0c0"/>
<rect x="271" y="668" width="1" height="5" fill="#c0c0c0"/>
<rect x="279" y="668" width="1" height="9" fill="#c0c0c0"/>
<rect x="287" y="668" width="1" height="16" fill="#c0c0c0"/>
<rect x="295" y="668" width="1" height="21" fill="#c0c0c0"/>
<rect x="303" y="668" width="1" height="27" fill="#c0c0c0"/>
<rect x="311" y="668" width="1" height="29" fill="#c0c0c0"/>
<rect x="319" y="668" width="1" height="35" fill="#c0c0c0"/>
<rect x="327" y="668" width="1" height="38" fill="#c0c0c0"/>
<rect x="335" y="668" width="1" height="43" fill="#c0c0c0"/>
<rect x="343" y="668" width="1" height="48" fill="#c0c0c0"/>
<rect x="351" y="668" width="1" height="53" fill="#c0c0c0"/>
<rect x="359" y="668" width="1" height="62" fill="#c0c0c0"/>
<rect x="367" y="668" width="1" height="67" fill="#c0c0c0"/>
<rect x="375" y="668" width="1" height="67" fill="#c0c0c0"/>
<rect x="383" y="668" width="1" height="68" fill="#c0c0c0"/>
<rect x="391" y="668" width="1" height="66" fill="#c0c0c0"/>
<rect x="399" y="668" width="1" height="70" fill="#c0c0c0"/>
<rect x="407" y="668" width="1" height="69" fill="#c0c0c0"/>
<rect x="415" y="668" width="1" height="67" fill="#c0c0c0"/>
<rect x="423" y="668" width="1" height="64" fill="#c0c0c0"/>
<rect x="431" y="668" width="1" height="60" fill="#c0c0c0"/>
<rect x="439" y="668" width="1" height="53" fill="#c0c0c0"/>
<rect x="447" y="668" width="1" height="50" fill="#c0c0c0"/>
<rect x="455" y="668" width="1" height="58" fill="#c0c0c0"/>
<rect x="463" y="668" width="1" height="61" fill="#c0c0c0"/>
<rect x="471" y="668" width="1" height="62" fill="#c0c0c0"/>
<rect x="479" y="668" width="1" height="64" fill="#c0c0c0"/>
<rect x="487" y="668" width="1" height="70" fill="#c0c0c0"/>
<rect x="495" y="668" width="1" height="72" fill="#c0c0c0"/>
<rect x="503" y="668" width="1" height="70" fill="#c0c0c0"/>
<rect x="511" y="668" width="1" height="65" fill="#c0c0c0"/>
<rect x="519" y="668" width="1" height="59" fill="#c0c0c0"/>
<rect x="527" y="668" width="1" height="53" fill="#c0c0c0"/>
<rect x="535" y="668" width="1" height="46" fill="#c0c0c0"/>
<rect x="543" y="668" width="1" height="36" fill="#c0c0c0"/>
<rect x="551" y="668" width="1" height="27" fill="#c0c0c0"/>
<rect x="559" y="668" width="1" height="20" fill="#c0c0c0"/>
<rect x="567" y="668" width="1" height="17" fill="#c0c0c0"/>
<rect x="575" y="668" width="1" height="14" fill="#c0c0c0"/>
<rect x="583" y="668" width="1" height="11" fill="#c0c0c0"/>
<rect x="591" y="668" width="1" height="7" fill="#c0c0c0"/>
<rect x="599" y="668" width="1" height="5" fill="#c0c0c0"/>
<rect x="607" y="668" width="1" height="4" fill="#c0c0c0"/>
<rect x="623" y="666" width="1" height="3" fill="#c0c0c0"/>
<rect x="631" y="660" width="1" height="9" fill="#c0c0c0"/>
<rect x="639" y="656" width="1" height="13" fill="#c0c0c0"/>
<rect x="647" y="650" width="1" height="19" fill="#c0c0c0"/>
<rect x="655" y="646" width="1" height="23" fill="#c0c0c0"/>
<rect x="663" y="644" width="1" height="25" fill="#c0c0c0"/>
<rect x="671" y="643" width="1" height="26" fill="#c0c0c0"/>
<rect x="679" y="645" width="1" height="24" fill="#c0c0c0"/>
<rect x="687" y="656" width="1" height="13" fill="#c0c0c0"/>
<rect x="703" y="668" width="1" height="14" fill="#c0c0c0"/>
<rect x="711" y="668" width="1" height="21" fill="#c0c0c0"/>
<rect x="719" y="668" width="1" height="29" fill="#c0c0c0"/>
<rect x="727" y="668" width="1" height="37" fill="#c0c0c0"/>
<rect x="735" y="668" width="1" height="37" fill="#c0c0c0"/>
<rect x="743" y="668" width="1" height="42" fill="#c0c0c0"/>
<rect x="751" y="668" width="1" height="43" fill="#c0c0c0"/>
<rect x="759" y="668" width="1" height="42" fill="#c0c0c0"/>
<rect x="767" y="668" width="1" height="38" fill="#c0c0c0"/>
<rect x="775" y="668" width="1" height="35" fill="#c0c0c0"/>
<rect x="783" y="668" width="1" height="40" fill="#c0c0c0"/>
<rect x="791" y="668" width="1" height="40" fill="#c0c0c0"/>
<rect x="799" y="668" width="1" height="37" fill="#c0c0c0"/>
<rect x="807" y="668" width="1" height="34" fill="#c0c0c0"/>
<rect x="815" y="668" width="1" height="29" fill="#c0c0c0"/>
<rect x="823" y="668" width="1" height="26" fill="#c0c0c0"/>
<rect x="831" y="668" width="1" height="20" fill="#c0c0c0"/>
<rect x="839" y="668" width="1" height="14" fill="#c0c0c0"/>
<rect x="847" y="668" width="1" height="13" fill="#c0c0c0"/>
<rect x="855" y="668" width="1" height="12" fill="#c0c0c0"/>
<rect x="863" y="668" width="1" height="14" fill="#c0c0c0"/>
<rect x="871" y="668" width="1" height="14" fill="#c0c0c0"/>
<rect x="879" y="668" width="1" height="16" fill="#c0c0c0"/>
<rect x="887" y="668" width="1" height="14" fill="#c0c0c0"/>
<rect x="895" y="668" width="1" height="10" fill="#c0c0c0"/>
<rect x="903" y="668" width="1" height="6" fill="#c0c0c0"/>
<rect x="911" y="668" width="1" height="5" fill="#c0c0c0"/>
<rect x="919" y="668" width="1" height="7" fill="#c0c0c0"/>
<rect x="927" y="668" width="1" height="5" fill="#c0c0c0"/>
<rect x="943" y="666" width="1" height="3" fill="#c0c0c0"/>
<rect x="951" y="664" width="1" height="5" fill="#c0c0c0"/>
<rect x="959" y="660" width="1" height="9" fill="#c0c0c0"/>
<rect x="967" y="657" width="1" height="12" fill="#c0c0c0"/>
<rect x="975" y="649" width="1" height="20" fill="#c0c0c0"/>
<rect x="983" y="642" width="1" height="27" fill="#c0c0c0"/>
<rect x="991" y="637" width="1" height="32" fill="#c0c0c0"/>
<rect x="999" y="634" width="1" height="35" fill="#c0c0c0"/>
<rect x="1007" y="632" width="1" height="37" fill="#c0c0c0"/>
<rect x="1015" y="630" width="1" height="39" fill="#c0c0c0"/>
<rect x="1023" y="621" width="1" height="48" fill="#c0c0c0"/>
<rect x="1031" y="612" width="1" height="57" fill="#c0c0c0"/>
<rect x="1039" y="604" width="1" height="65" fill="#c0c0c0"/>
<rect x="1047" y="598" width="1" height="71" fill="#c0c0c0"/>
<rect x="1055" y="592" width="1" height="77" fill="#c0c0c0"/>
<rect x="1063" y="589" width="1" height="80" fill="#c0c0c0"/>
<rect x="1071" y="588" width="1" height="81" fill="#c0c0c0"/>
<rect x="1079" y="588" width="1" height="81" fill="#c0c0c0"/>
<rect x="1087" y="590" width="1" height="79" fill="#c0c0c0"/>
<rect x="1095" y="594" width="1" height="75" fill="#c0c0c0"/>
<rect x="1103" y="599" width="1" height="70" fill="#c0c0c0"/>
<rect x="1111" y="605" width="1" height="64" fill="#c0c0c0"/>
<rect x="1119" y="609" width="1" height="60" fill="#c0c0c0"/>
<rect x="1127" y="615" width="1" height="54" fill="#c0c0c0"/>
<rect x="1135" y="619" width="1" height="50" fill="#c0c0c0"/>
<rect x="1143" y="622" width="1" height="47" fill="#c0c0c0"/>
<rect x="1151" y="626" width="1" height="43" fill="#c0c0c0"/>
<rect x="1159" y="629" width="1" height="40" fill="#c0c0c0"/>
<rect x="1167" y="638" width="1" height="31" fill="#c0c0c0"/>
<rect x="1175" y="645" width="1" height="24" fill="#c0c0c0"/>
<rect x="1183" y="651" width="1" height="18" fill="#c0c0c0"/>
<rect x="1191" y="655" width="1" height="14" fill="#c0c0c0"/>
<rect x="1199" y="657" width="1" height="12" fill="#c0c0c0"/>
<rect x="1207" y="657" width="1" height="12" fill="#c0c0c0"/>
<rect x="1215" y="657" width="1" height="12" fill="#c0c0c0"/>
<rect x="1223" y="652" width="1" height="17" fill="#c0c0c0"/>
<rect x="1231" y="647" width="1" height="22" fill="#c0c0c0"/>
<rect x="1239" y="644" width="1" height="25" fill="#c0c0c0"/>
<rect x="1247" y="644" width="1" height="25" fill="#c0c0c0"/>
<rect x="1255" y="646" width="1" height="23" fill="#c0c0c0"/>
<rect x="1263" y="652" width="1" height="17" fill="#c0c0c0"/>
<rect x="1271" y="657" width="1" height="12" fill="#c0c0c0"/>
<rect x="1279" y="660" width="1" height="9" fill="#c0c0c0"/>
<rect x="1287" y="661" width="1" height="8" fill="#c0c0c0"/>
<rect x="1295" y="660" width="1" height="9" fill="#c0c0c0"/>
<rect x="1303" y="659" width="1" height="10" fill="#c0c0c0"/>
<rect x="1311" y="659" width="1" height="10" fill="#c0c0c0"/>
<rect x="1319" y="661" width="1" height="8" fill="#c0c0c0"/>
<rect x="1327" y="663" width="1" height="6" fill="#c0c0c0"/>
<rect x="1335" y="666" width="1" height="3" fill="#c0c0c0"/>
<rect x="1351" y="668" width="1" height="4" fill="#c0c0c0"/>
<rect x="1359" y="668" width="1" height="4" fill="#c0c0c0"/>
<rect x="1367" y="666" width="1" height="3" fill="#c0c0c0"/>
<rect x="1375" y="665" width="1" height="4" fill="#c0c0c0"/>
<rect x="1383" y="666" width="1" height="3" fill="#c0c0c0"/>
</g>
<polyline points="0.0,733.0 2.5,732.3 15.1,726.7 30.2,720.4 45.4,709.1 60.5,700.3 73.1,695.7 85.7,695.2 95.8,696.5 110.9,701.0 126.0,707.8 141.2,712.9 156.3,712.9 171.4,709.1 191.6,702.0 201.8,698.0 208.6,695.5 214.5,692.6 220.3,689.2 226.2,685.0 232.1,680.4 238.0,676.2 243.9,672.4 250.6,668.7 256.5,666.1 262.4,663.6 268.2,661.9 274.1,661.1 280.0,660.4 286.7,662.4 292.6,664.3 298.5,666.8 304.4,670.3 310.3,674.5 317.0,679.2 335.3,692.7 352.9,701.5 370.6,712.9 388.2,724.2 403.3,730.5 430.2,734.3 450.4,731.8 470.6,728.5 490.7,728.7 508.4,730.5 521.0,731.8 538.6,729.2 551.2,723.7 566.4,711.6 581.5,700.3 596.6,688.9 614.3,678.8 629.4,673.8 647.0,666.2 664.7,658.7 677.3,653.6 694.9,651.1 702.5,653.6 717.6,661.2 732.7,675.0 747.9,688.9 760.5,699.0 778.1,704.0 793.2,707.1 815.1,705.3 832.8,700.8 850.4,694.5 870.6,686.4 885.7,683.4 905.9,679.6 926.0,677.6 941.2,675.0 951.2,672.5 966.4,666.2 981.5,659.9 1001.7,651.1 1016.8,643.0 1031.9,634.7 1047.0,622.9 1062.2,614.6 1077.3,604.5 1092.4,595.6 1102.5,592.4 1120.1,594.4 1137.8,601.2 1158.0,610.8 1178.1,624.6 1193.2,633.5 1206.4,641.4 1222.3,648.8 1240.7,651.2 1259.2,649.8 1285.7,649.8 1304.1,652.5 1320.0,656.7 1338.5,661.2 1359.6,664.6 1383.0,666.8" fill="none" stroke="#ff0000" stroke-width="1" stroke-dasharray="3,3" shape-rendering="crispEdges"/>
<line x1="1284.3" y1="655.1" x2="1379.0370724586294" y2="662.897658754873" stroke="#ff0000" stroke-width="4"/>
<polygon points="1390,663.8 1378.626917347208,667.8808076373142 1379.4472275700507,657.9145098724317" fill="#ff0000"/>
<text x="-4" y="590.5" font-size="9.8" fill="#000" stroke="#000" stroke-width="0.12" textLength="126.8" lengthAdjust="spacingAndGlyphs" >MACD(12,26,9) 4.3474 1.3044</text>
<rect x="1615" y="580" width="3" height="1" fill="#000"/>
<rect x="1615" y="668" width="3" height="1" fill="#000"/>
<rect x="1615" y="747" width="3" height="1" fill="#000"/>
<text x="1618" y="588.8" font-size="9" fill="#000" stroke="#000" stroke-width="0.12" textLength="33" lengthAdjust="spacingAndGlyphs" >64.9457</text>
<text x="1618.5" y="671.5" font-size="9" fill="#000" stroke="#000" stroke-width="0.12" textLength="19.5" lengthAdjust="spacingAndGlyphs" >0.00</text>
<text x="1618" y="745" font-size="9" fill="#000" stroke="#000" stroke-width="0.12" textLength="35.6" lengthAdjust="spacingAndGlyphs" >-58.5831</text>
<line x1="0" y1="786.5" x2="1614" y2="786.5" stroke="#c0c0c0" stroke-width="1" stroke-dasharray="3,3"/>
<line x1="0" y1="837.5" x2="1614" y2="837.5" stroke="#c0c0c0" stroke-width="1" stroke-dasharray="3,3"/>
<line x1="0" y1="898.5" x2="1614" y2="898.5" stroke="#c0c0c0" stroke-width="1" stroke-dasharray="3,3"/>
<polyline points="0.0,843.3 7.0,843.8 15.0,850.8 23.0,830.7 31.0,840.0 39.0,835.7 47.0,835.7 55.0,843.3 63.0,849.6 71.0,864.2 79.0,862.9 87.0,858.4 95.0,861.7 103.0,864.7 111.0,860.4 119.0,852.1 127.0,853.4 135.0,847.0 143.0,848.3 151.0,852.1 159.0,839.0 167.0,843.3 175.0,842.5 183.0,843.3 191.0,841.3 199.0,838.2 207.0,846.5 215.0,812.3 223.0,815.5 231.0,814.3 239.0,818.6 247.0,822.6 255.0,854.6 263.0,850.3 271.0,850.3 279.0,852.1 287.0,854.1 295.0,855.4 303.0,859.1 311.0,854.1 319.0,862.2 327.0,862.7 335.0,864.7 343.0,868.5 351.0,873.0 359.0,878.1 367.0,874.8 375.0,870.2 383.0,867.2 391.0,867.2 399.0,874.0 407.0,867.2 415.0,868.5 423.0,859.7 431.0,860.2 439.0,845.3 447.0,853.4 455.0,872.3 463.0,866.5 471.0,866.5 479.0,869.7 487.0,875.3 495.0,875.3 503.0,860.4 511.0,855.9 519.0,847.0 527.0,847.0 535.0,841.3 543.0,830.2 551.0,830.2 559.0,826.1 567.0,840.0 575.0,837.7 583.0,835.2 591.0,832.2 599.0,836.5 607.0,835.2 615.0,831.9 623.0,825.6 631.0,817.6 639.0,820.6 647.0,812.3 655.0,812.3 663.0,818.6 671.0,821.1 679.0,829.4 687.0,857.1 695.0,866.5 703.0,871.0 711.0,859.7 719.0,867.2 727.0,866.5 735.0,856.6 743.0,860.9 751.0,857.1 759.0,852.8 767.0,847.8 775.0,845.3 783.0,862.9 791.0,853.4 799.0,842.5 807.0,843.3 815.0,840.2 823.0,841.3 831.0,833.2 839.0,831.2 847.0,838.7 855.0,840.7 863.0,845.8 871.0,844.5 879.0,850.8 887.0,838.2 895.0,833.9 903.0,831.2 911.0,837.0 919.0,845.3 927.0,835.7 935.0,828.1 943.0,831.2 951.0,829.4 959.0,824.4 967.0,822.6 975.0,811.0 983.0,809.2 991.0,808.5 999.0,813.0 1007.0,811.3 1015.0,810.0 1023.0,795.4 1031.0,790.8 1039.0,789.1 1047.0,787.8 1055.0,785.3 1063.0,790.8 1071.0,794.1 1079.0,793.4 1087.0,796.6 1095.0,805.0 1103.0,816.8 1111.0,818.6 1119.0,815.0 1127.0,825.1 1135.0,818.1 1143.0,819.3 1151.0,823.1 1159.0,821.8 1167.0,849.6 1175.0,841.3 1183.0,845.2 1191.0,840.6 1199.0,834.6 1207.0,831.8 1215.0,830.0 1223.0,814.2 1231.0,812.3 1239.0,815.1 1247.0,820.7 1255.0,830.9 1263.0,844.8 1271.0,844.8 1279.0,843.9 1287.0,836.5 1295.0,828.1 1303.0,826.3 1311.0,831.8 1319.0,841.1 1327.0,840.6 1335.0,848.2 1343.0,847.1 1351.0,853.2 1359.0,836.5 1367.0,824.4 1375.0,826.3 1383.0,828.0" fill="none" stroke="#1e90ff" stroke-width="1" shape-rendering="crispEdges"/>
<line x1="1258.1" y1="845.8" x2="1377.0008681515128" y2="829.5862452520664" stroke="#ff0000" stroke-width="4"/>
<polygon points="1387.9,828.1 1377.6764341751793,834.5403960922879 1376.3253021278463,824.632094411845" fill="#ff0000"/>
<text x="-6.5" y="762.5" font-size="9.8" fill="#000" stroke="#000" stroke-width="0.12" textLength="68.3" lengthAdjust="spacingAndGlyphs" >RSI(14) 56.4801</text>
<rect x="1615" y="752" width="3" height="1" fill="#000"/>
<rect x="1615" y="786" width="3" height="1" fill="#000"/>
<rect x="1615" y="837" width="3" height="1" fill="#000"/>
<rect x="1615" y="898" width="3" height="1" fill="#000"/>
<rect x="1615" y="924" width="3" height="1" fill="#000"/>
<text x="1618.7" y="760.8" font-size="9" fill="#000" stroke="#000" stroke-width="0.12" textLength="14" lengthAdjust="spacingAndGlyphs" >100</text>
<text x="1618" y="790" font-size="9" fill="#000" stroke="#000" stroke-width="0.12" textLength="9.5" lengthAdjust="spacingAndGlyphs" >80</text>
<text x="1618" y="841" font-size="9" fill="#000" stroke="#000" stroke-width="0.12" textLength="9.5" lengthAdjust="spacingAndGlyphs" >50</text>
<text x="1617.5" y="902.2" font-size="9" fill="#000" stroke="#000" stroke-width="0.12" textLength="9.5" lengthAdjust="spacingAndGlyphs" >15</text>
<text x="1618" y="920.7" font-size="9" fill="#000" stroke="#000" stroke-width="0.12" textLength="5" lengthAdjust="spacingAndGlyphs" >0</text>
<text x="4.2" y="936.8" font-size="9.6" fill="#000" stroke="#000" stroke-width="0.12" textLength="36.6" lengthAdjust="spacingAndGlyphs" >Apr 2022</text>
<rect x="55" y="925" width="1" height="4" fill="#000"/>
<text x="54" y="936.8" font-size="9.6" fill="#000" stroke="#000" stroke-width="0.12" textLength="53.4" lengthAdjust="spacingAndGlyphs" >29 Apr 08:00</text>
<rect x="119" y="925" width="1" height="4" fill="#000"/>
<text x="118" y="936.8" font-size="9.6" fill="#000" stroke="#000" stroke-width="0.12" textLength="51.8" lengthAdjust="spacingAndGlyphs" >2 May 16:00</text>
<rect x="183" y="925" width="1" height="4" fill="#000"/>
<text x="182" y="936.8" font-size="9.6" fill="#000" stroke="#000" stroke-width="0.12" textLength="51.8" lengthAdjust="spacingAndGlyphs" >4 May 00:00</text>
<rect x="247" y="925" width="1" height="4" fill="#000"/>
<text x="246" y="936.8" font-size="9.6" fill="#000" stroke="#000" stroke-width="0.12" textLength="51.8" lengthAdjust="spacingAndGlyphs" >5 May 08:00</text>
<rect x="311" y="925" width="1" height="4" fill="#000"/>
<text x="310" y="936.8" font-size="9.6" fill="#000" stroke="#000" stroke-width="0.12" textLength="51.8" lengthAdjust="spacingAndGlyphs" >6 May 16:00</text>
<rect x="375" y="925" width="1" height="4" fill="#000"/>
<text x="374" y="936.8" font-size="9.6" fill="#000" stroke="#000" stroke-width="0.12" textLength="57.1" lengthAdjust="spacingAndGlyphs" >10 May 00:00</text>
<rect x="439" y="925" width="1" height="4" fill="#000"/>
<text x="438" y="936.8" font-size="9.6" fill="#000" stroke="#000" stroke-width="0.12" textLength="56.4" lengthAdjust="spacingAndGlyphs" >11 May 08:00</text>
<rect x="503" y="925" width="1" height="4" fill="#000"/>
<text x="502" y="936.8" font-size="9.6" fill="#000" stroke="#000" stroke-width="0.12" textLength="57.1" lengthAdjust="spacingAndGlyphs" >12 May 16:00</text>
<rect x="567" y="925" width="1" height="4" fill="#000"/>
<text x="566" y="936.8" font-size="9.6" fill="#000" stroke="#000" stroke-width="0.12" textLength="57.1" lengthAdjust="spacingAndGlyphs" >16 May 00:00</text>
<rect x="631" y="925" width="1" height="4" fill="#000"/>
<text x="630" y="936.8" font-size="9.6" fill="#000" stroke="#000" stroke-width="0.12" textLength="57.1" lengthAdjust="spacingAndGlyphs" >17 May 08:00</text>
<rect x="695" y="925" width="1" height="4" fill="#000"/>
<text x="694" y="936.8" font-size="9.6" fill="#000" stroke="#000" stroke-width="0.12" textLength="57.1" lengthAdjust="spacingAndGlyphs" >18 May 16:00</text>
<rect x="759" y="925" width="1" height="4" fill="#000"/>
<text x="758" y="936.8" font-size="9.6" fill="#000" stroke="#000" stroke-width="0.12" textLength="57.1" lengthAdjust="spacingAndGlyphs" >20 May 00:00</text>
<rect x="823" y="925" width="1" height="4" fill="#000"/>
<text x="822" y="936.8" font-size="9.6" fill="#000" stroke="#000" stroke-width="0.12" textLength="57.1" lengthAdjust="spacingAndGlyphs" >23 May 08:00</text>
<rect x="887" y="925" width="1" height="4" fill="#000"/>
<text x="886" y="936.8" font-size="9.6" fill="#000" stroke="#000" stroke-width="0.12" textLength="57.1" lengthAdjust="spacingAndGlyphs" >24 May 16:00</text>
<rect x="951" y="925" width="1" height="4" fill="#000"/>
<text x="950" y="936.8" font-size="9.6" fill="#000" stroke="#000" stroke-width="0.12" textLength="57.1" lengthAdjust="spacingAndGlyphs" >26 May 00:00</text>
<rect x="1015" y="925" width="1" height="4" fill="#000"/>
<text x="1014" y="936.8" font-size="9.6" fill="#000" stroke="#000" stroke-width="0.12" textLength="57.1" lengthAdjust="spacingAndGlyphs" >27 May 08:00</text>
<rect x="1079" y="925" width="1" height="4" fill="#000"/>
<text x="1078" y="936.8" font-size="9.6" fill="#000" stroke="#000" stroke-width="0.12" textLength="57.1" lengthAdjust="spacingAndGlyphs" >30 May 16:00</text>
<rect x="1143" y="925" width="1" height="4" fill="#000"/>
<text x="1142" y="936.8" font-size="9.6" fill="#000" stroke="#000" stroke-width="0.12" textLength="49.2" lengthAdjust="spacingAndGlyphs" >1 Jun 00:00</text>
<rect x="1207" y="925" width="1" height="4" fill="#000"/>
<text x="1206" y="936.8" font-size="9.6" fill="#000" stroke="#000" stroke-width="0.12" textLength="49.2" lengthAdjust="spacingAndGlyphs" >2 Jun 08:00</text>
<rect x="1271" y="925" width="1" height="4" fill="#000"/>
<text x="1270" y="936.8" font-size="9.6" fill="#000" stroke="#000" stroke-width="0.12" textLength="49.2" lengthAdjust="spacingAndGlyphs" >3 Jun 16:00</text>
<rect x="1335" y="925" width="1" height="4" fill="#000"/>
<text x="1334" y="936.8" font-size="9.6" fill="#000" stroke="#000" stroke-width="0.12" textLength="49.2" lengthAdjust="spacingAndGlyphs" >7 Jun 00:00</text>
</svg>
<svg style="position:absolute;left:0;top:0" width="1666" height="19" font-family="'Liberation Sans',sans-serif">
<!-- new order -->
<rect x="0" y="0" width="3" height="5" fill="#8a8a8a"/>
<path d="M2,6h3v4h3v3h-3v4h-3v-4h-2v-3h2z" fill="#22b022"/>
<text x="9" y="10.5" font-size="12" fill="#111" stroke="#111" stroke-width="0.3">新订单</text>
<rect x="31" y="12" width="2" height="2" fill="#333"/>
<!-- gold book -->
<path d="M57,8 L63,0 L73,8 L67,15 Z" fill="#c8901a"/><path d="M59,7 L63,1.5 L71,8 L66.5,13z" fill="#f0cf48"/><path d="M57,8 L67,15 L67,13.5 L58.5,7.5z" fill="#7a4a08"/>
<!-- cloud server -->
<path d="M88,0 H97 L98,2 V9 H88z" fill="#2f86e0"/><rect x="90" y="1" width="2" height="8" fill="#7ab8f0"/><rect x="93" y="4" width="4" height="1" fill="#e0f0ff"/><path d="M86,14 Q85,10 89,10 Q90,7 94,8 Q97,7 98,10 Q102,10 101,14 Z" fill="#eef2f8" stroke="#6b87b8" stroke-width="1"/>
<!-- signal -->
<circle cx="121" cy="7" r="7" fill="none" stroke="#9bb4e6" stroke-width="1"/><circle cx="121" cy="7" r="4.5" fill="none" stroke="#4f7fd6" stroke-width="1"/><circle cx="121" cy="7" r="1.8" fill="#2050b0"/><path d="M121,8 V14 Q126,13 128,9" fill="none" stroke="#3aa040" stroke-width="1.5"/>
<!-- auto trading -->
<ellipse cx="148" cy="5" rx="7" ry="3" fill="#5aa8e0"/><rect x="146" y="0" width="4" height="4" fill="#3c8cc8"/><path d="M141,7 L155,7 L153,13 L145,14z" fill="#f0d040"/><circle cx="152" cy="11" r="4" fill="#d02020"/><rect x="150.5" y="9.5" width="3" height="3" fill="#fff"/>
<text x="161" y="10.5" font-size="12" fill="#111" stroke="#111" stroke-width="0.3">自动交易</text>
<!-- separators and grip -->
<rect x="216" y="0" width="1" height="17" fill="#a0a0a0"/><rect x="217" y="0" width="1" height="17" fill="#fff"/>
<g fill="#b0b0b0"><rect x="220" y="1" width="3" height="1"/><rect x="220" y="3" width="3" height="1"/><rect x="220" y="5" width="3" height="1"/><rect x="220" y="7" width="3" height="1"/><rect x="220" y="9" width="3" height="1"/><rect x="220" y="11" width="3" height="1"/><rect x="220" y="13" width="3" height="1"/><rect x="220" y="15" width="3" height="1"/></g>
<!-- bar chart icon -->
<g fill="none" stroke="#555" stroke-width="1"><path d="M234.5,2 V15 M232,12.5 H245"/></g><path d="M233,3 L234.5,1 L236,3z M244,11 L246,12.5 L244,14z" fill="#555"/><path d="M240.5,2 V10.5 M240.5,3.5 H243 M238,9.5 H240.5" fill="none" stroke="#1a8a1a" stroke-width="1"/>
<rect x="255" y="0" width="24" height="17" fill="#f7f7f7"/><rect x="254" y="0" width="1" height="17" fill="#a8a8a8"/>
<g fill="none" stroke="#555" stroke-width="1"><path d="M262.5,2 V15 M260,12.5 H273"/></g><path d="M261,3 L262.5,1 L264,3z M272,11 L274,12.5 L272,14z" fill="#555"/><rect x="268" y="0" width="1" height="11" fill="#1a8a1a"/><rect x="266.5" y="1.5" width="4" height="7" fill="#50e050" stroke="#1a8a1a" stroke-width="1"/>
<g fill="none" stroke="#555" stroke-width="1"><path d="M290.5,2 V15 M288,12.5 H301"/></g><path d="M289,3 L290.5,1 L292,3z M300,11 L302,12.5 L300,14z" fill="#555"/><path d="M289,9.5 Q292,5 295,4.3 Q297,4.5 300.7,8.4" fill="none" stroke="#2a9a2a" stroke-width="1"/>
<rect x="311" y="0" width="1" height="17" fill="#a0a0a0"/>
<!-- zoom in/out -->
<circle cx="326" cy="5.5" r="5" fill="#d6ebff" stroke="#3f7fcf" stroke-width="1.3"/><path d="M323,5.5h6M326,2.5v6" stroke="#3f7fcf" stroke-width="1.5"/><path d="M330,9 L335,14" stroke="#c8a830" stroke-width="2.5"/>
<circle cx="354" cy="5.5" r="5" fill="#d6ebff" stroke="#3f7fcf" stroke-width="1.3"/><path d="M351,5.5h6" stroke="#3f7fcf" stroke-width="1.5"/><path d="M358,9 L363,14" stroke="#c8a830" stroke-width="2.5"/>
<!-- tile -->
<rect x="376" y="0" width="8" height="7" fill="#3aa43a"/><rect x="385" y="0" width="7" height="7" fill="#3366cc"/><rect x="376" y="8" width="8" height="7" fill="#3366cc"/><rect x="385" y="8" width="7" height="7" fill="#3aa43a"/>
<g fill="#e8f4e8"><rect x="377.5" y="3" width="5" height="2"/><rect x="386.5" y="3" width="4" height="2"/><rect x="377.5" y="11" width="5" height="2"/><rect x="386.5" y="11" width="4" height="2"/></g>
<rect x="401" y="0" width="1" height="17" fill="#a0a0a0"/><rect x="406" y="0" width="1" height="17" fill="#a0a0a0"/>
<rect x="407" y="0" width="24" height="17" fill="#f6f6f6"/>
<g fill="none" stroke="#555" stroke-width="1"><path d="M414.5,2 V15 M412,12.5 H425"/></g><path d="M413,3 L414.5,1 L416,3z M424,11 L426,12.5 L424,14z" fill="#555"/><path d="M419,3 L424,6.5 L419,10z" fill="#22aa22"/>
<rect x="434" y="0" width="1" height="17" fill="#a0a0a0"/><rect x="435" y="0" width="24" height="17" fill="#f6f6f6"/>
<g fill="none" stroke="#555" stroke-width="1"><path d="M442.5,2 V15 M440,12.5 H453"/></g><path d="M441,3 L442.5,1 L444,3z M452,11 L454,12.5 L452,14z" fill="#555"/><rect x="448" y="1" width="1" height="10" fill="#2a6ab0"/><path d="M449,6.5 L453,4 L452,6.5 L453,9z" fill="#e03010"/>
<rect x="463" y="0" width="1" height="17" fill="#a0a0a0"/>
<!-- indicators -->
<path d="M473,1 H482 L485,4 V13 H473z" fill="#fff" stroke="#888" stroke-width="1"/><path d="M480,5h3v3h3v3h-3v4h-3v-4h-3v-3h3z" fill="#22c022" stroke="#118811" stroke-width="0.6"/>
<path d="M495,6 H500 L497.5,9z" fill="#000"/>
<!-- clock -->
<circle cx="519" cy="7" r="7.5" fill="#1f6fd0"/><circle cx="519" cy="7" r="5.5" fill="#f4f6fa"/><path d="M519,3 V7.5 H522" stroke="#333" stroke-width="1" fill="none"/>
<path d="M534,6 H539 L536.5,9z" fill="#000"/>
<!-- templates -->
<rect x="550" y="0" width="16" height="14" fill="#fff" stroke="#3a6fc0" stroke-width="1"/><rect x="550" y="0" width="16" height="2" fill="#4a7fd0"/><path d="M552,6 L556,5 L559,4.5 L563,4" stroke="#b03020" fill="none"/><path d="M552,11 L555,10 L558,9 L560,11 L563,9" stroke="#22a022" fill="none"/>
<path d="M573,6 H578 L575.5,9z" fill="#000"/>
<rect x="584" y="0" width="1" height="17" fill="#a0a0a0"/>
<g fill="#b0b0b0"><rect x="588" y="1" width="3" height="1"/><rect x="588" y="3" width="3" height="1"/><rect x="588" y="5" width="3" height="1"/><rect x="588" y="7" width="3" height="1"/><rect x="588" y="9" width="3" height="1"/><rect x="588" y="11" width="3" height="1"/><rect x="588" y="13" width="3" height="1"/><rect x="588" y="15" width="3" height="1"/></g>
<rect x="594" y="0" width="1" height="17" fill="#a0a0a0"/>
<rect x="595" y="0" width="24" height="17" fill="#f6f6f6"/>
<path d="M602,1 L602,11 L604.5,9 L606.5,13.5 L608,13 L606,8.5 L609.5,8.5z" fill="#444"/>
<path d="M627,7.5 H642 M634.5,0 V15" stroke="#555" stroke-width="1"/>
<rect x="651" y="0" width="1" height="17" fill="#a0a0a0"/>
<rect x="668" y="1" width="1" height="13" fill="#444"/>
<rect x="691" y="7" width="12" height="1" fill="#444"/>
<path d="M719,14 L731,2" stroke="#444" stroke-width="1"/>
<path d="M745,9 L757,1 M747,13 L759,5 M748,6 L750,11 M751,4 L753,9 M754,2 L756,7" stroke="#444" stroke-width="1"/><text x="755.5" y="15.5" font-size="6" font-weight="bold" fill="#333">E</text>
<g fill="#444"><rect x="774" y="1" width="13" height="1"/><rect x="774" y="3" width="13" height="1"/><rect x="774" y="7" width="13" height="1"/><rect x="774" y="11" width="9" height="1"/></g><text x="783.5" y="15.5" font-size="6" font-weight="bold" fill="#333">F</text>
<text x="804.5" y="12" font-size="11" fill="#555" stroke="#555" stroke-width="0.4">A</text>
<rect x="831.5" y="1.5" width="12" height="12" fill="none" stroke="#555" stroke-dasharray="1,1"/><text x="833.5" y="11.5" font-size="10" font-weight="bold" fill="#444">T</text>
<path d="M858,3 L861,0 L864,3z M861,6 L863,9 L868,4 M866,11 L869,8 L872,11 L869,14z" fill="#444" stroke="#444" stroke-width="0.8"/>
<path d="M879,6 H884 L881.5,9z" fill="#000"/>
<rect x="890" y="0" width="1" height="17" fill="#a0a0a0"/>
<g fill="#b0b0b0"><rect x="894" y="1" width="3" height="1"/><rect x="894" y="3" width="3" height="1"/><rect x="894" y="5" width="3" height="1"/><rect x="894" y="7" width="3" height="1"/><rect x="894" y="9" width="3" height="1"/><rect x="894" y="11" width="3" height="1"/><rect x="894" y="13" width="3" height="1"/><rect x="894" y="15" width="3" height="1"/></g>
<g font-size="10.2" fill="#3a3a3a">
<text x="905" y="11.5">M1</text><text x="933" y="11.5">M5</text><text x="959" y="11.5">M15</text><text x="987" y="11.5">M30</text><text x="1018" y="11.5">H1</text>
<rect x="1040" y="0" width="1" height="17" fill="#a0a0a0"/><rect x="1041" y="0" width="24" height="17" fill="#f7f7f7"/>
<text x="1044.5" y="11.5">H4</text><text x="1074" y="11.5">D1</text><text x="1101" y="11.5">W1</text><text x="1128" y="11.5">MN</text>
</g>
<rect x="1151" y="0" width="1" height="17" fill="#a0a0a0"/>
<!-- search & notify -->
<circle cx="1621" cy="4.5" r="3.8" fill="none" stroke="#2a62d0" stroke-width="1.5"/><path d="M1618.5,7.5 L1614,12" stroke="#2a62d0" stroke-width="2"/>
<ellipse cx="1644" cy="9" rx="6" ry="5" fill="#e6e6ee" stroke="#b8b8c0" stroke-width="1"/><path d="M1641,13 L1641,16 L1645,13z" fill="#bbb"/>
<circle cx="1653" cy="4.5" r="8" fill="#e03a20"/><text x="1650" y="9.5" font-size="11" font-weight="bold" fill="#fff" font-family="'Liberation Serif',serif">1</text>
</svg>

<div style="position:absolute;left:0;top:43px;width:214px;height:57px;background:#fff"></div>
<div style="position:absolute;left:0;top:43px;width:46px;height:24px;background:linear-gradient(#f95252,#e02c2c);border-top:1px solid #b40000;border-right:1px solid #b40000;box-sizing:border-box"></div>
<div style="position:absolute;left:0;top:66px;width:42px;height:1px;background:#8a0000"></div><div style="position:absolute;left:0;top:67px;width:42px;height:1px;background:#e85050"></div>
<div style="position:absolute;left:6.5px;top:48.5px;font:11px 'Liberation Sans',sans-serif;color:#fff">SELL</div>
<div style="position:absolute;left:47px;top:43px;width:113px;height:24px;background:#fff;border:1px solid #a9a9a9;box-sizing:border-box"></div>
<div style="position:absolute;left:49px;top:45px;width:20px;height:20px;background:linear-gradient(#f2f2f2 0%,#e6e6e6 45%,#d5d5d5 50%,#dcdcdc 100%);border:1px solid #b8b8b8;box-sizing:border-box"></div>
<div style="position:absolute;left:137px;top:45px;width:21px;height:20px;background:linear-gradient(#f2f2f2 0%,#e6e6e6 45%,#d5d5d5 50%,#dcdcdc 100%);border:1px solid #b8b8b8;box-sizing:border-box"></div>
<svg style="position:absolute;left:0;top:0" width="213" height="100"><polygon points="56,52.5 61,52.5 58.5,55.5" fill="#5068c0"/><polygon points="145.5,55.5 150.5,55.5 148,52.5" fill="#5068c0"/></svg>
<div style="position:absolute;left:100px;top:47px;width:34px;text-align:right;font:12px 'Liberation Sans',sans-serif;color:#000">1.00</div>
<div style="position:absolute;left:161px;top:43px;width:53px;height:24px;background:linear-gradient(#f95252,#e02c2c);border-top:1px solid #b40000;border-left:1px solid #b40000;box-sizing:border-box"></div>
<div style="position:absolute;left:165px;top:66px;width:45px;height:1px;background:#8a0000"></div>
<div style="position:absolute;left:174px;top:48.5px;font:11px 'Liberation Sans',sans-serif;color:#fff">BUY</div>
<div style="position:absolute;left:0;top:67px;width:103px;height:33px;background:linear-gradient(#d92424,#b00303)"></div>
<div style="position:absolute;left:105px;top:67px;width:109px;height:33px;background:linear-gradient(#d92424,#b00303)"></div>
<svg style="position:absolute;left:0;top:0;font-family:'Liberation Sans',sans-serif" width="213" height="100">
<text x="9.5" y="95" font-size="12" font-weight="bold" fill="#fff">4153</text>
<text x="41" y="95" font-size="35" fill="#fff" font-family="'Liberation Serif',serif">03</text>
<text x="81" y="79" font-size="11" font-weight="bold" fill="#fff">5</text>
<text x="119" y="95" font-size="12" font-weight="bold" fill="#fff">4153</text>
<text x="152" y="95" font-size="35" fill="#fff" font-family="'Liberation Serif',serif">86</text>
<text x="192" y="79" font-size="11" font-weight="bold" fill="#fff">5</text>
</svg>

</div></body></html>
